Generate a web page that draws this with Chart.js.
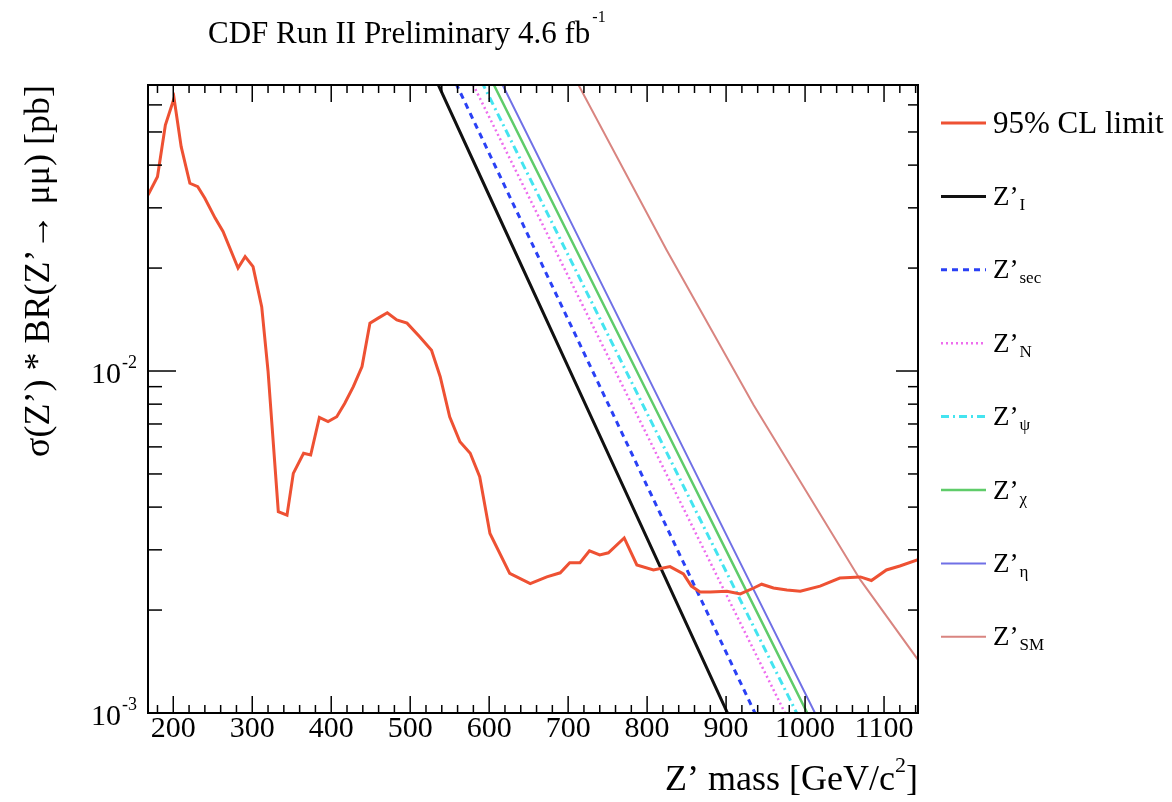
<!DOCTYPE html>
<html>
<head>
<meta charset="utf-8">
<script src="https://cdn.jsdelivr.net/npm/chart.js@4/dist/chart.umd.min.js"></script>
<style>
  html, body { margin:0; padding:0; background:#fff; }
  canvas { display:block; }
</style>
</head>
<body>
<canvas id="chart" width="1172" height="802"></canvas>
<script>
const limitMass = [168,180,190,201,210,221,231,240,253,263,282,291,301,312,320,333,344,352,365,374,
  385,396,407,417,428,439,449,460,471,483,496,512,527,538,550,563,576,588,601,626,
  652,673,690,702,715,727,740,751,771,787,808,829,846,856,867,880,901,918,935,945,
  960,977,994,1019,1044,1070,1084,1103,1120,1143];
const limitXsec = [0.0327,0.0370,0.0524,0.0627,0.0453,0.0354,0.0346,0.0320,0.0280,0.0256,
  0.0200,0.0216,0.0202,0.0154,0.0100,0.00388,0.00379,0.00502,0.00575,0.00568,
  0.00732,0.00711,0.00735,0.00804,0.00900,0.0103,0.0138,0.0143,0.0148,0.0141,
  0.0138,0.0126,0.0115,0.00962,0.00735,0.00621,0.00575,0.00491,0.00335,0.00256,
  0.00239,0.00250,0.00257,0.00275,0.00275,0.00298,0.00290,0.00294,0.00325,0.00271,
  0.00262,0.00268,0.00255,0.00235,0.00226,0.00226,0.00227,0.00223,0.00232,0.00238,
  0.00232,0.00229,0.00227,0.00235,0.00248,0.00250,0.00244,0.00262,0.00269,0.00281];

// theory curves
const zIMass   = [520,600,700,800,920];
const zIXsec   = [0.0822,0.0326,0.01028,0.00324,0.00081];
const zSecMass = [540,600,700,800,960];
const zSecXsec = [0.0848,0.0433,0.01414,0.00461,0.000769];
const zNMass   = [560,700,800,900,990];
const zNXsec   = [0.0849,0.01895,0.00649,0.002224,0.000848];
const zPsiMass = [570,700,800,900,1010];
const zPsiXsec = [0.0873,0.02184,0.00752,0.002593,0.000803];
const zChiMass = [590,700,800,900,1020];
const zChiXsec = [0.0814,0.0252,0.00868,0.00299,0.000832];
const zEtaMass = [600,700,800,900,1030];
const zEtaXsec = [0.0823,0.02828,0.00971,0.00333,0.00083];
const zSMMass  = [700,713,825,935,1070,1144,1160];
const zSMXsec  = [0.0782,0.0687,0.0225,0.00794,0.00245,0.00142,0.00126];

// axes
const xMin = 168, xMax = 1143;
const yMin = 0.001, yMax = 0.0686;
const xMajorTicks = [200,300,400,500,600,700,800,900,1000,1100];
const xTickLabels = ['200','300','400','500','600','700','800','900','1000','1100'];
const yMajorTicks = [0.001, 0.01];
const yTickExp = ['-3','-2'];
const yMinorTicks = [0.002,0.003,0.004,0.005,0.006,0.007,0.008,0.009,0.02,0.03,0.04,0.05,0.06];

// legend: main text + subscript
const legendMain = ['95% CL limit','Z\u2019','Z\u2019','Z\u2019','Z\u2019','Z\u2019','Z\u2019','Z\u2019'];
const legendSub  = ['','I','sec','N','\u03c8','\u03c7','\u03b7','SM'];

const SERIF = '"Liberation Serif", "DejaVu Serif", serif';
const pts = (xs, ys) => xs.map((m, i) => ({ x:m, y:ys[i] }));

function line(label, xs, ys, color, width, dash){
  return { label, data:pts(xs, ys), borderColor:color, borderWidth:width, borderDash:dash || [],
    pointRadius:0, fill:false, tension:0, clip:0 };
}

const datasets = [
  line('95% CL limit', limitMass, limitXsec, '#ee5133', 3),
  line('ZI',  zIMass,   zIXsec,   '#111111', 3),
  line('Zsec', zSecMass, zSecXsec, '#2a40f5', 3, [6,5]),
  line('ZN',  zNMass,   zNXsec,   '#ee6cee', 2.5, [2,3]),
  line('Zpsi', zPsiMass, zPsiXsec, '#44e4f0', 3, [8,4,2,4]),
  line('Zchi', zChiMass, zChiXsec, '#5fcc6a', 2.5),
  line('Zeta', zEtaMass, zEtaXsec, '#7070e6', 2),
  line('ZSM', zSMMass,  zSMXsec,  '#d98580', 2)
];

const decor = {
  id:'decor',
  afterDraw(chart){
    const { ctx, chartArea:a, scales:{ x, y } } = chart;
    ctx.save();
    ctx.strokeStyle = '#000'; ctx.fillStyle = '#000';
    const seg = (x1,y1,x2,y2) => { ctx.beginPath(); ctx.moveTo(x1,y1); ctx.lineTo(x2,y2); ctx.stroke(); };

    // inward ticks on all four sides
    ctx.lineWidth = 1.5;
    for (let v = 180; v < xMax; v += 20){
      const px = x.getPixelForValue(v);
      const len = xMajorTicks.includes(v) ? 17 : 8;
      seg(px, a.bottom, px, a.bottom - len);
      seg(px, a.top, px, a.top + len);
    }
    yMinorTicks.forEach(v => {
      const py = y.getPixelForValue(v);
      seg(a.left, py, a.left + 14, py);
      seg(a.right, py, a.right - 10, py);
    });
    yMajorTicks.forEach(v => {
      const py = y.getPixelForValue(v);
      seg(a.left, py, a.left + 28, py);
      seg(a.right, py, a.right - 22, py);
    });

    // frame
    ctx.lineWidth = 2;
    ctx.strokeRect(a.left, a.top, a.right - a.left, a.bottom - a.top);

    // x tick labels
    ctx.font = '30px ' + SERIF; ctx.textAlign = 'center'; ctx.textBaseline = 'alphabetic';
    xMajorTicks.forEach((v, i) => ctx.fillText(xTickLabels[i], x.getPixelForValue(v), a.bottom + 24));

    // y tick labels 10^n
    ctx.textAlign = 'right';
    yMajorTicks.forEach((v, i) => {
      const base = y.getPixelForValue(v) + 12;
      ctx.font = '18px ' + SERIF;
      ctx.fillText(yTickExp[i], a.left - 11, base - 15);
      const w = ctx.measureText(yTickExp[i]).width;
      ctx.font = '30px ' + SERIF;
      ctx.fillText('10', a.left - 12 - w, base);
    });

    // x title, right aligned to the frame
    ctx.textAlign = 'left';
    const t1 = 'Z\u2019 mass [GeV/c', t2 = '2', t3 = ']';
    ctx.font = '36px ' + SERIF; const w1 = ctx.measureText(t1).width, w3 = ctx.measureText(t3).width;
    ctx.font = '22px ' + SERIF; const w2 = ctx.measureText(t2).width;
    let tx = a.right - (w1 + w2 + w3);
    ctx.font = '36px ' + SERIF; ctx.fillText(t1, tx, 790);
    ctx.font = '22px ' + SERIF; ctx.fillText(t2, tx + w1, 772);
    ctx.font = '36px ' + SERIF; ctx.fillText(t3, tx + w1 + w2, 790);

    // y title, rotated, ending at the top of the frame
    ctx.save();
    ctx.translate(49, a.top);
    ctx.rotate(-Math.PI / 2);
    ctx.textAlign = 'right';
    ctx.font = '36px ' + SERIF;
    ctx.fillText('\u03c3(Z\u2019) * BR(Z\u2019\u2192 \u03bc\u03bc) [pb]', 0, 0);
    ctx.restore();

    // header
    ctx.textAlign = 'left';
    ctx.font = '31px ' + SERIF;
    const head = 'CDF Run II Preliminary 4.6 fb';
    ctx.fillText(head, 208, 43);
    const hw = ctx.measureText(head).width;
    ctx.font = '16px ' + SERIF;
    ctx.fillText('-1', 208 + hw + 2, 22);

    // legend
    chart.data.datasets.forEach((ds, i) => {
      const ly = 123 + i * 73.4;
      ctx.save();
      ctx.strokeStyle = ds.borderColor; ctx.lineWidth = ds.borderWidth;
      ctx.setLineDash(ds.borderDash);
      seg(941, ly, 986, ly);
      ctx.restore();
      if (!legendSub[i]){
        ctx.font = '31px ' + SERIF;
        ctx.fillText(legendMain[i], 993, ly + 10);
      } else {
        ctx.font = '27px ' + SERIF;
        ctx.fillText(legendMain[i], 993, ly + 8.5);
        const mw = ctx.measureText(legendMain[i]).width;
        ctx.font = '17px ' + SERIF;
        ctx.fillText(legendSub[i], 993 + mw + 1, ly + 13.5);
      }
    });
    ctx.restore();
  }
};

new Chart(document.getElementById('chart'), {
  type:'line',
  data:{ datasets },
  options:{
    responsive:false,
    devicePixelRatio:1,
    animation:false,
    layout:{ padding:{ left:148, right:254, top:85, bottom:89 } },
    plugins:{ legend:{ display:false }, tooltip:{ enabled:false } },
    scales:{
      x:{ type:'linear', min:xMin, max:xMax, display:false },
      y:{ type:'logarithmic', min:yMin, max:yMax, display:false }
    }
  },
  plugins:[decor]
});
</script>
</body>
</html>
